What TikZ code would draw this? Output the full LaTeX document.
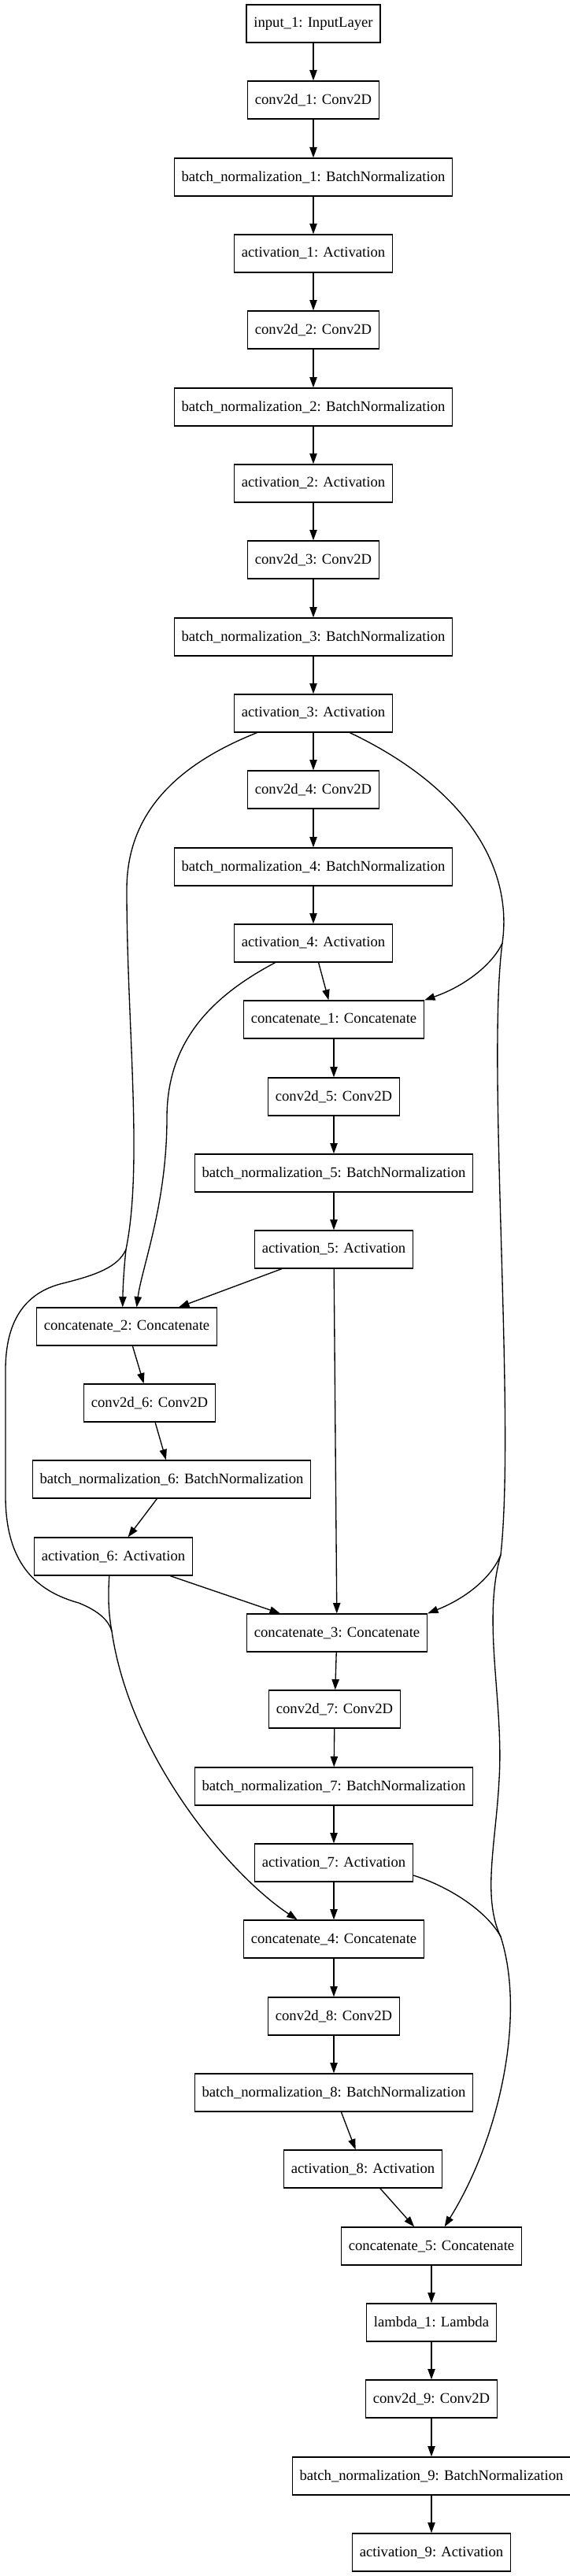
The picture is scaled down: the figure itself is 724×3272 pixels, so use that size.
\documentclass[tikz,border=0pt]{standalone}
\usepackage{fontspec}
\setmainfont{Liberation Serif}
\usetikzlibrary{arrows.meta}

\begin{document}
\begin{tikzpicture}[x=0.75pt,y=-0.75pt,
    layer/.style={draw,line width=1pt,fill=white,minimum height=36pt,
      inner xsep=7pt,inner ysep=2pt,font=\fontsize{14}{16}\selectfont},
    conn/.style={line width=1pt,-{Triangle[length=10pt,width=7pt]}},
    wire/.style={line width=1pt}]
\useasboundingbox (0,0) rectangle (724,3272);

% main column
\node[layer] (in0) at (398,30) {input\_1: InputLayer};
\node[layer] (cv1) at (398,127) {conv2d\_1: Conv2D};
\node[layer] (bn1) at (398,225) {batch\_normalization\_1: BatchNormalization};
\node[layer] (ac1) at (398,322) {activation\_1: Activation};
\node[layer] (cv2) at (398,419) {conv2d\_2: Conv2D};
\node[layer] (bn2) at (398,517) {batch\_normalization\_2: BatchNormalization};
\node[layer] (ac2) at (398,614) {activation\_2: Activation};
\node[layer] (cv3) at (398,711) {conv2d\_3: Conv2D};
\node[layer] (bn3) at (398,809) {batch\_normalization\_3: BatchNormalization};
\node[layer] (ac3) at (398,906) {activation\_3: Activation};
\node[layer] (cv4) at (398,1003) {conv2d\_4: Conv2D};
\node[layer] (bn4) at (398,1101) {batch\_normalization\_4: BatchNormalization};
\node[layer] (ac4) at (398,1198) {activation\_4: Activation};
\node[layer] (cat1) at (424,1295) {concatenate\_1: Concatenate};
\node[layer] (cv5) at (424,1393) {conv2d\_5: Conv2D};
\node[layer] (bn5) at (424,1490) {batch\_normalization\_5: BatchNormalization};
\node[layer] (ac5) at (424,1587) {activation\_5: Activation};
\node[layer] (cat2) at (161,1685) {concatenate\_2: Concatenate};
\node[layer] (cv6) at (190,1782) {conv2d\_6: Conv2D};
\node[layer] (bn6) at (218,1879) {batch\_normalization\_6: BatchNormalization};
\node[layer] (ac6) at (144,1977) {activation\_6: Activation};
\node[layer] (cat3) at (428,2074) {concatenate\_3: Concatenate};
\node[layer] (cv7) at (425,2171) {conv2d\_7: Conv2D};
\node[layer] (bn7) at (424,2269) {batch\_normalization\_7: BatchNormalization};
\node[layer] (ac7) at (424,2366) {activation\_7: Activation};
\node[layer] (cat4) at (424,2463) {concatenate\_4: Concatenate};
\node[layer] (cv8) at (424,2561) {conv2d\_8: Conv2D};
\node[layer] (bn8) at (424,2658) {batch\_normalization\_8: BatchNormalization};
\node[layer] (ac8) at (461,2755) {activation\_8: Activation};
\node[layer] (cat5) at (548,2853) {concatenate\_5: Concatenate};
\node[layer] (lam1) at (548,2950) {lambda\_1: Lambda};
\node[layer] (cv9) at (548,3047) {conv2d\_9: Conv2D};
\node[layer] (bn9) at (548,3145) {batch\_normalization\_9: BatchNormalization};
\node[layer] (ac9) at (548,3242) {activation\_9: Activation};

% merge points of the skip lines
\coordinate (b1) at (638,1198);
\coordinate (b2) at (636,1975);
\coordinate (b3) at (636,2460);
\coordinate (l1) at (160,1587);
\coordinate (l2) at (142,2072);

% straight edges
\foreach \a/\b in {in0/cv1,cv1/bn1,bn1/ac1,ac1/cv2,cv2/bn2,bn2/ac2,ac2/cv3,cv3/bn3,
    bn3/ac3,ac3/cv4,cv4/bn4,bn4/ac4,ac4/cat1,cat1/cv5,cv5/bn5,bn5/ac5,ac5/cat2,
    ac5/cat3,cat2/cv6,cv6/bn6,bn6/ac6,ac6/cat3,cat3/cv7,cv7/bn7,bn7/ac7,ac7/cat4,
    cat4/cv8,cv8/bn8,bn8/ac8,ac8/cat5,cat5/lam1,lam1/cv9,cv9/bn9,bn9/ac9}
  \draw[conn] (\a) -- (\b);

% right skip
\draw[wire] (ac3.-28) .. controls (590,1000) and (652,1100) .. (b1);
\draw[conn] (b1) .. controls (626,1224) and (592,1252) .. (cat1.north east);
\draw[wire] (b1) .. controls (618,1350) and (655,1800) .. (b2);
\draw[conn] (b2) .. controls (624,2004) and (592,2030) .. (cat3.north east);
\draw[wire] (b2) .. controls (612,2060) and (640,2160) .. (634,2260)
  .. controls (630,2340) and (612,2410) .. (b3);
\draw[wire] (ac7.-9) .. controls (575,2398) and (620,2430) .. (b3);
\draw[conn] (b3) .. controls (668,2560) and (635,2715) .. (cat5.56);

% left skip
\draw[wire] (ac3.199) .. controls (215,975) and (161,1040) .. (161,1130)
  .. controls (161,1300) and (182,1480) .. (l1);
\draw[conn] (l1) .. controls (157,1615) and (156,1640) .. (cat2.102);
\draw[wire] (l1) .. controls (150,1610) and (120,1620) .. (80,1630)
  .. controls (30,1642) and (7,1680) .. (7,1740) -- (7,1900)
  .. controls (7,1990) and (50,2022) .. (100,2036)
  .. controls (125,2046) and (138,2058) .. (l2);
\draw[wire] (ac6.-102) .. controls (137,2030) and (138,2050) .. (l2);
\draw[conn] (l2) .. controls (165,2230) and (290,2380) .. (cat4.152);
\draw[conn] (ac4.207) .. controls (260,1270) and (212,1330) .. (212,1420)
  .. controls (212,1530) and (180,1610) .. (cat2.63);
\end{tikzpicture}
\end{document}
